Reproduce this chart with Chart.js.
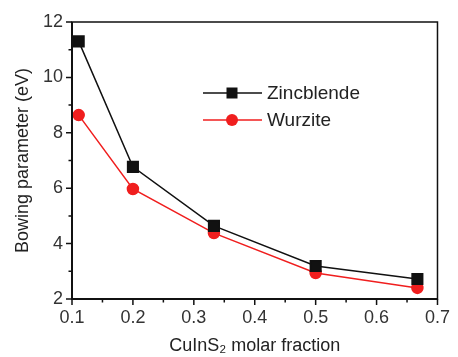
<!DOCTYPE html>
<html>
<head>
<meta charset="utf-8">
<script src="https://cdn.jsdelivr.net/npm/chart.js@4"></script>
<style>
  html, body { margin: 0; padding: 0; background: #fff; }
  #wrap { width: 458px; height: 357px; }
</style>
</head>
<body>
<div id="wrap"><canvas id="bowingChart" width="458" height="357"></canvas></div>
<script>
// данные
const molarFraction = [0.111, 0.2, 0.333, 0.5, 0.667];
const zincblende = [11.3, 6.77, 4.64, 3.19, 2.72];
const wurzite = [8.64, 5.97, 4.38, 2.94, 2.4];
const seriesNames = ['Zincblende', 'Wurzite'];
const xTicks = [0.1, 0.2, 0.3, 0.4, 0.5, 0.6, 0.7];
const yTicks = [2, 4, 6, 8, 10, 12];

const FONT = '"Liberation Sans", Arial, sans-serif';
const toPoints = ys => ys.map((y, i) => ({ x: molarFraction[i], y }));

// рамка, основные и дополнительные засечки, легенда
const frameTicks = {
    id: 'frameTicks',
    afterDraw(chart) {
        const { ctx, chartArea: a, scales: { x, y } } = chart;
        ctx.save();
        ctx.strokeStyle = '#111';
        ctx.lineWidth = 1.5;
        ctx.strokeRect(a.left, a.top, a.right - a.left, a.bottom - a.top);
        ctx.lineWidth = 2;
        ctx.beginPath();
        ctx.moveTo(a.left, a.top); ctx.lineTo(a.left, a.bottom); ctx.lineTo(a.right, a.bottom);
        ctx.stroke();
        ctx.lineWidth = 1.5;
        ctx.beginPath();
        for (let i = 0; i < xTicks.length; i++) {
            const px = x.getPixelForValue(xTicks[i]);
            ctx.moveTo(px, a.bottom); ctx.lineTo(px, a.bottom + 6);
            if (i < xTicks.length - 1) {
                const mx = x.getPixelForValue((xTicks[i] + xTicks[i + 1]) / 2);
                ctx.moveTo(mx, a.bottom); ctx.lineTo(mx, a.bottom + 3.5);
            }
        }
        for (let i = 0; i < yTicks.length; i++) {
            const py = y.getPixelForValue(yTicks[i]);
            ctx.moveTo(a.left, py); ctx.lineTo(a.left - 6, py);
            if (i < yTicks.length - 1) {
                const my = y.getPixelForValue((yTicks[i] + yTicks[i + 1]) / 2);
                ctx.moveTo(a.left, my); ctx.lineTo(a.left - 3.5, my);
            }
        }
        ctx.stroke();

        chart.data.datasets.forEach((ds, i) => {
            const ly = 93 + i * 27;
            ctx.strokeStyle = ds.borderColor;
            ctx.lineWidth = 1.5;
            ctx.beginPath();
            ctx.moveTo(203, ly); ctx.lineTo(262, ly);
            ctx.stroke();
            ctx.fillStyle = ds.pointBackgroundColor;
            ctx.beginPath();
            if (ds.pointStyle === 'rect') {
                ctx.rect(232 - 5.5, ly - 5.5, 11, 11);
            } else {
                ctx.arc(232, ly, 6, 0, Math.PI * 2);
            }
            ctx.fill();
            ctx.fillStyle = '#222';
            ctx.font = '19px ' + FONT;
            ctx.textBaseline = 'middle';
            ctx.fillText(ds.label, 267, ly + 1);
        });
        ctx.restore();
    }
};

new Chart(document.getElementById('bowingChart').getContext('2d'), {
    type: 'line',
    data: {
        datasets: [{
            label: seriesNames[0],
            data: toPoints(zincblende),
            borderColor: '#111',
            backgroundColor: '#111',
            pointBackgroundColor: '#111',
            pointBorderColor: '#111',
            pointStyle: 'rect',
            pointRadius: 7.5,
            borderWidth: 1.5,
            tension: 0
        }, {
            label: seriesNames[1],
            data: toPoints(wurzite),
            borderColor: '#f01e1e',
            backgroundColor: '#f01e1e',
            pointBackgroundColor: '#f01e1e',
            pointBorderColor: '#f01e1e',
            pointStyle: 'circle',
            pointRadius: 5.5,
            borderWidth: 1.5,
            tension: 0
        }]
    },
    options: {
        responsive: false,
        animation: false,
        events: [],
        layout: { padding: { top: 22, right: 11, bottom: 0, left: 0 } },
        plugins: { legend: { display: false }, tooltip: { enabled: false } },
        scales: {
            x: {
                type: 'linear',
                min: 0.1, max: 0.7,
                afterBuildTicks: s => { s.ticks = xTicks.map(v => ({ value: v })); },
                afterFit: s => { s.height = 58; },
                grid: { display: false, drawTicks: false },
                border: { display: false },
                ticks: {
                    padding: 8,
                    color: '#333',
                    font: { family: FONT, size: 18 },
                    callback: v => v.toFixed(1)
                },
                title: {
                    display: true,
                    text: 'CuInS\u2082 molar fraction',
                    color: '#222',
                    font: { family: FONT, size: 18 },
                    padding: { top: 0, bottom: 0 }
                }
            },
            y: {
                min: 2, max: 12,
                afterBuildTicks: s => { s.ticks = yTicks.map(v => ({ value: v })); },
                afterFit: s => { s.width = 72; },
                grid: { display: false, drawTicks: false },
                border: { display: false },
                ticks: {
                    padding: 9,
                    color: '#333',
                    font: { family: FONT, size: 18 }
                },
                title: {
                    display: true,
                    text: 'Bowing parameter (eV)',
                    color: '#222',
                    font: { family: FONT, size: 18 },
                    padding: { top: 12, bottom: 0 }
                }
            }
        }
    },
    plugins: [frameTicks]
});
</script>
</body>
</html>
